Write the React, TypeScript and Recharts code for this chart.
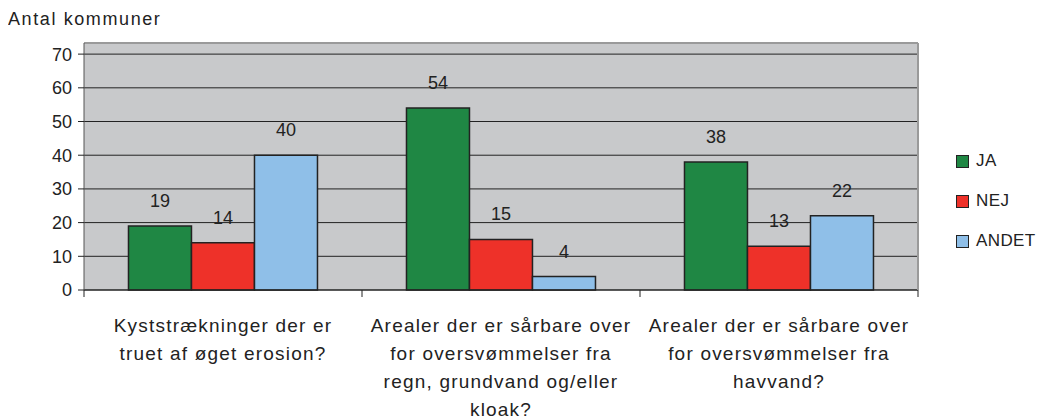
import { BarChart, Bar, XAxis, YAxis, CartesianGrid, LabelList, ReferenceLine } from 'recharts';

const categories = [
  ['Kyststrækninger der er', 'truet af øget erosion?'],
  ['Arealer der er sårbare over', 'for oversvømmelser fra', 'regn, grundvand og/eller', 'kloak?'],
  ['Arealer der er sårbare over', 'for oversvømmelser fra', 'havvand?'],
];
const ja = [19, 54, 38];
const nej = [14, 15, 13];
const andet = [40, 4, 22];
const yTicks = [0, 10, 20, 30, 40, 50, 60, 70];
const yMax = 73.3;

const series = [
  { key: 'ja', name: 'JA', color: '#1f8744' },
  { key: 'nej', name: 'NEJ', color: '#ee3129' },
  { key: 'andet', name: 'ANDET', color: '#8fbfe8' },
];

const data = categories.map((lines, i) => ({
  name: lines.join(' '),
  ja: ja[i],
  nej: nej[i],
  andet: andet[i],
}));

const font = '"Liberation Sans", Arial, sans-serif';

function CatTick(props: any) {
  const { x, y, payload, index } = props;
  const half = payload.offset || 0;
  const lines = categories[index] || [];
  return (
    <g>
      <line x1={x - half} x2={x - half} y1={y} y2={y + 7} stroke="#222" />
      {index === categories.length - 1 && <line x1={x + half} x2={x + half} y1={y} y2={y + 7} stroke="#222" />}
      <text x={x} y={y} textAnchor="middle" fill="#222" fontSize={19} letterSpacing={1.2} fontFamily={font}>
        {lines.map((l, i) => (
          <tspan key={i} x={x} dy={i === 0 ? 42 : 28}>{l}</tspan>
        ))}
      </text>
    </g>
  );
}

export default function App() {
  return (
    <div style={{ position: 'relative', width: 1028, height: 408, fontFamily: font }}>
      <div style={{ position: 'absolute', left: 0, top: 1, fontSize: 18, letterSpacing: 1.6, color: '#222' }}>Antal kommuner</div>
      <BarChart
        width={1028}
        height={408}
        data={data}
        margin={{ top: 35, right: 117, bottom: 0, left: 0 }}
        barCategoryGap="16%"
        barGap={0}
      >
        <CartesianGrid fill="#c8c9cb" stroke="#222" vertical={false} />
        <ReferenceLine y={yMax} stroke="#9a9a9a" strokeWidth={2} ifOverflow="visible" />
        <XAxis
          dataKey="name"
          height={126}
          tickSize={0}
          tickMargin={0}
          tickLine={false}
          axisLine={{ stroke: '#222' }}
          tick={<CatTick />}
          interval={0}
        />
        <YAxis
          domain={[0, yMax]}
          ticks={yTicks}
          width={76}
          tickSize={6}
          tickMargin={6}
          axisLine={{ stroke: '#555' }}
          tickLine={{ stroke: '#222' }}
          tick={{ fill: '#222', fontSize: 18, fontFamily: font }}
        />
        <YAxis yAxisId="r" orientation="right" width={1} tick={false} tickLine={false} axisLine={{ stroke: '#9a9a9a', strokeWidth: 2 }} />
        {series.map((s) => (
          <Bar
            key={s.key}
            dataKey={s.key}
            name={s.name}
            fill={s.color}
            stroke="#222"
            strokeWidth={1.5}
            isAnimationActive={false}
          >
            <LabelList dataKey={s.key} position="top" offset={19} fill="#222" fontSize={18} fontFamily={font} />
          </Bar>
        ))}
      </BarChart>
      <div style={{ position: 'absolute', left: 948, top: 133 }}>
        {series.map((s) => (
          <div key={s.key} style={{ display: 'flex', alignItems: 'center', height: 40, fontSize: 17, letterSpacing: 0.4, color: '#222', whiteSpace: 'nowrap' }}>
            <span style={{ width: 11, height: 11, background: s.color, border: '1.5px solid #222', marginRight: 7 }} />
            {s.name}
          </div>
        ))}
      </div>
    </div>
  );
}
